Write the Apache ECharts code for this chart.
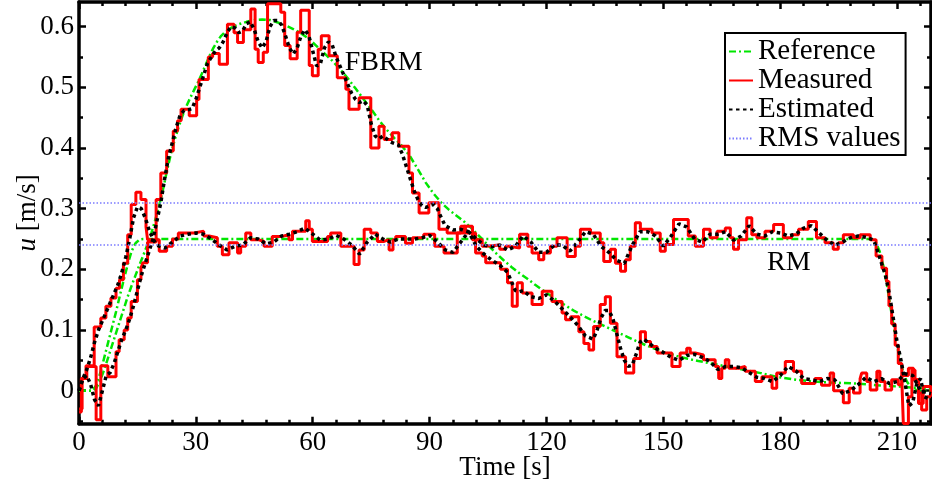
<!DOCTYPE html>
<html><head><meta charset="utf-8">
<script src="https://cdn.jsdelivr.net/npm/echarts@6/dist/echarts.min.js"></script>
<style>html,body{margin:0;padding:0;background:#fff}#c{width:932px;height:488px}</style>
</head><body><div id="c"></div>
<script>
const xTicks = [0, 30, 60, 90, 120, 150, 180, 210];
const xMinorTicks = [6,12,18,24,36,42,48,54,66,72,78,84,96,102,108,114,126,132,138,144,156,162,168,174,186,192,198,204,216];
const yTicks = [0, 0.1, 0.2, 0.3, 0.4, 0.5, 0.6];
const yMinorTicks = [-0.05, 0.05, 0.15, 0.25, 0.35, 0.45, 0.55];
const legendNames = ['Reference', 'Measured', 'Estimated', 'RMS values'];
const rmsValues = [0.31, 0.237];
const annotations = [{text: 'FBRM', t: 78.2, u: 0.541}, {text: 'RM', t: 182.2, u: 0.211}];

const refFBRM = [[0,0],[3.5,0],[4.5,0.005],[5.5,0.018],[6.5,0.035],[7.5,0.055],[8.5,0.075],[9.5,0.095],[10.5,0.115],[11.5,0.135],[12.5,0.155],[13.5,0.173],[14.5,0.19],[15.5,0.207],[16.5,0.223],[17.5,0.24],[18.5,0.258],[19.5,0.28],[20.5,0.303],[21.5,0.33],[22.5,0.36],[23.5,0.388],[24.5,0.412],[25.5,0.433],[26.5,0.452],[27.5,0.468],[28.5,0.482],[29.5,0.495],[30.5,0.508],[31.5,0.522],[32.5,0.537],[33.5,0.552],[34.5,0.565],[35.5,0.576],[36.5,0.585],[37.5,0.591],[39,0.598],[41,0.604],[43,0.608],[45,0.611],[47,0.612],[49,0.611],[51,0.607],[53,0.602],[55,0.596],[57,0.589],[59,0.58],[61,0.568],[63,0.556],[65,0.544],[67,0.53],[69,0.515],[71,0.498],[73,0.481],[75,0.464],[77,0.446],[79,0.43],[81,0.416],[83,0.403],[85,0.386],[87,0.365],[89,0.343],[91,0.325],[93,0.31],[95,0.298],[97,0.288],[99,0.278],[101,0.266],[103,0.253],[105,0.24],[107,0.227],[109,0.215],[111,0.204],[113,0.194],[115,0.185],[117,0.175],[119,0.166],[121,0.157],[123,0.148],[125,0.14],[127,0.132],[129,0.125],[132,0.115],[135,0.106],[138,0.097],[141,0.088],[144,0.079],[147,0.071],[150,0.064],[153,0.058],[156,0.053],[159,0.049],[163,0.044],[167,0.039],[171,0.034],[175,0.029],[179,0.023],[183,0.019],[187,0.016],[191,0.014],[195,0.013],[199,0.012],[205,0.009],[210,0.007],[214,0.005],[218.7,0.003]];

const refRM = [[0,0],[3.5,0],[4.5,0.01],[5.5,0.03],[6.5,0.055],[7.5,0.08],[8.5,0.105],[9.5,0.13],[10.5,0.157],[11.5,0.183],[12.5,0.208],[13.5,0.23],[14.5,0.243],[15.5,0.249],[16.5,0.25],[203.5,0.25],[204.5,0.245],[205.5,0.23],[206.5,0.205],[207.5,0.17],[208.5,0.13],[209.5,0.09],[210.5,0.058],[211.5,0.032],[212.5,0.015],[213.5,0.006],[214.5,0.002],[215.5,0],[218.7,0]];

const measFBRM = [[0,-0.035],[0.6,0.02],[2,0.04],[4.4,-0.048],[5.6,0.041],[7.4,0.023],[9.5,0.064],[10.3,0.084],[11.6,0.1],[12.5,0.12],[13.4,0.147],[15,0.183],[15.9,0.202],[16.4,0.211],[17.6,0.245],[19.8,0.315],[21.0,0.359],[22.5,0.395],[24.2,0.428],[25.3,0.445],[26.2,0.464],[28.3,0.453],[30.2,0.48],[30.8,0.513],[33.2,0.55],[34.3,0.556],[36,0.538],[38.1,0.604],[39.8,0.59],[40.7,0.574],[42.2,0.595],[44.1,0.629],[45.2,0.563],[46,0.541],[47.3,0.558],[48.4,0.638],[51.8,0.624],[52.8,0.569],[54.2,0.547],[56,0.591],[56.9,0.627],[59.1,0.536],[59.9,0.519],[61.4,0.563],[62.2,0.585],[64.2,0.552],[66.3,0.516],[68.5,0.497],[69.3,0.464],[71.9,0.483],[74.9,0.4],[77,0.436],[78.3,0.414],[80.4,0.425],[82.1,0.403],[84.7,0.359],[85.6,0.326],[87.3,0.293],[89.8,0.31],[92.4,0.266],[94.5,0.26],[98,0.271],[99.2,0.26],[101.8,0.227],[103.5,0.222],[104.4,0.211],[108.2,0.2],[110,0.178],[111.2,0.139],[112.5,0.178],[113.8,0.161],[116.3,0.142],[118.9,0.164],[121.4,0.147],[124,0.128],[124.9,0.117],[126.2,0.122],[128.3,0.097],[129.6,0.078],[130.9,0.067],[132.1,0.106],[133.8,0.142],[135.1,0.155],[136.4,0.111],[138.1,0.056],[140.3,0.029],[142.4,0.053],[144.1,0.097],[145.4,0.081],[146.7,0.073],[148.4,0.062],[152.2,0.04],[154.3,0.062],[156,0.07],[156.9,0.062],[158.2,0.059],[160.3,0.051],[163.3,0.04],[164.2,0.02],[165,0.037],[165.9,0.051],[166.8,0.037],[169.3,0.04],[171,0.032],[173.6,0.015],[175.3,0.023],[177.9,0.004],[179.1,0.029],[181.3,0.048],[183.4,0.032],[185.5,0.012],[188.9,0.02],[190.6,0.009],[192.8,0.029],[193.7,0],[196.2,-0.02],[197.7,0.004],[198.8,-0.004],[200.5,0.02],[200.9,0.029],[202.2,0.015],[203.1,0.001],[204.8,0.032],[205.6,0.015],[206.9,0.001],[208.6,0.018],[210.3,0.01],[211.2,0.025],[212.9,0.037],[214.2,0.018],[215.5,-0.021],[216.7,0.007],[218.7,-0.01]];

const measRM = [[0,-0.03],[0.8,0.02],[1.8,0.041],[3.9,0.105],[5.6,0.12],[6.9,0.139],[8.2,0.153],[9.5,0.169],[10.4,0.183],[11.4,0.21],[12.5,0.257],[13.4,0.307],[14.6,0.327],[15.9,0.315],[17.2,0.27],[17.6,0.249],[19,0.249],[20.6,0.23],[22.5,0.238],[24,0.25],[25.5,0.26],[29.6,0.263],[32,0.255],[33.4,0.252],[35.5,0.238],[36.8,0.224],[38.5,0.244],[40.7,0.227],[41.5,0.238],[42.8,0.26],[44.1,0.249],[46,0.246],[47.5,0.238],[49.6,0.254],[51.8,0.257],[53.9,0.249],[54.8,0.263],[58.2,0.28],[59.1,0.266],[59.9,0.246],[63.8,0.254],[64.6,0.26],[67.2,0.238],[70.6,0.208],[71.9,0.232],[73.2,0.266],[74.9,0.26],[76.6,0.246],[78.3,0.249],[79.6,0.232],[80.6,0.249],[81.3,0.254],[83.8,0.243],[85.6,0.252],[88.5,0.258],[91.3,0.238],[93.7,0.227],[97.1,0.26],[98.8,0.271],[101,0.249],[103.5,0.238],[104.4,0.24],[108,0.233],[109.5,0.238],[110.6,0.235],[113.1,0.258],[115.2,0.238],[116.3,0.227],[118,0.216],[119.3,0.227],[121,0.238],[122.7,0.252],[125.3,0.221],[127.4,0.238],[128.7,0.266],[131.3,0.26],[133.8,0.244],[134.7,0.213],[136.4,0.233],[137.7,0.21],[139,0.197],[140.3,0.216],[141.5,0.238],[142.8,0.277],[144.1,0.266],[147.1,0.26],[149.2,0.23],[150.5,0.241],[152.6,0.282],[156.4,0.255],[158.2,0.238],[160.3,0.266],[162,0.252],[163.8,0.263],[165.9,0.268],[167.2,0.252],[168,0.233],[169.3,0.249],[171.4,0.285],[172.7,0.257],[174,0.252],[176.1,0.263],[178.3,0.274],[180.8,0.252],[182.9,0.257],[184.7,0.266],[187.2,0.279],[189.3,0.252],[191.5,0.244],[193.6,0.233],[194.9,0.244],[196.2,0.257],[198.8,0.252],[200.5,0.257],[203.1,0.249],[204.6,0.222],[206.1,0.202],[207.3,0.18],[207.9,0.14],[208.6,0.11],[209.5,0.075],[210.3,0.045],[211.2,0.02],[211.6,-0.054],[212.9,-0.01],[213.8,0.034],[214.6,0.018],[215.5,-0.004],[216.3,-0.032],[217.6,-0.01],[218.7,-0.01]];

const estFBRM = [[0,0],[1,0.02],[2,0.025],[3,0.01],[4,-0.015],[5,-0.025],[6,0],[7,0.025],[8,0.03],[9,0.045],[10,0.065],[11,0.085],[12,0.1],[13,0.118],[14,0.14],[15,0.165],[16,0.19],[17,0.21],[18,0.23],[19,0.25],[20,0.28],[21,0.31],[22,0.35],[23,0.385],[24,0.41],[25,0.435],[26,0.455],[27,0.462],[28,0.463],[29,0.465],[30,0.48],[31,0.5],[32,0.52],[33,0.54],[34,0.55],[35,0.56],[36,0.565],[37,0.575],[38,0.59],[39,0.6],[40,0.598],[41,0.59],[42,0.593],[43,0.605],[44,0.608],[45,0.595],[46,0.575],[47,0.565],[48,0.575],[49,0.6],[50,0.61],[51,0.61],[52,0.603],[53,0.585],[54,0.565],[55,0.555],[56,0.565],[57,0.585],[58,0.595],[59,0.585],[60,0.56],[61,0.535],[62,0.54],[63,0.565],[64,0.575],[65,0.57],[66,0.55],[67,0.535],[68,0.52],[69,0.505],[70,0.49],[71,0.48],[72,0.475],[73,0.478],[74,0.47],[75,0.44],[76,0.42],[77,0.415],[78,0.42],[79,0.415],[80,0.41],[82,0.405],[83,0.39],[84,0.37],[85,0.35],[86,0.33],[87,0.315],[88,0.305],[89,0.302],[90,0.305],[91,0.307],[92,0.3],[93,0.285],[94,0.272],[96,0.265],[98,0.266],[100,0.262],[101,0.25],[102,0.238],[104,0.225],[106,0.215],[108,0.207],[110,0.195],[111,0.18],[112,0.165],[113,0.163],[114,0.165],[116,0.155],[118,0.152],[119,0.155],[120,0.158],[122,0.148],[124,0.135],[126,0.122],[128,0.108],[130,0.09],[132,0.085],[133,0.1],[134,0.12],[135,0.132],[136,0.132],[137,0.12],[138,0.095],[139,0.07],[140,0.05],[141,0.04],[142,0.042],[143,0.06],[144,0.08],[145,0.085],[146,0.08],[148,0.07],[150,0.063],[152,0.055],[154,0.05],[156,0.058],[158,0.06],[160,0.055],[162,0.048],[164,0.035],[166,0.04],[168,0.04],[170,0.038],[172,0.03],[174,0.022],[176,0.02],[178,0.015],[180,0.025],[182,0.04],[184,0.033],[186,0.02],[188,0.018],[190,0.015],[192,0.02],[194,0.018],[196,-0.005],[198,0],[200,0.01],[202,0.022],[204,0.015],[206,0.02],[208,0.012],[210,0.015],[212,0.028],[214,0.025],[216,0],[218.7,-0.005]];

const estRM = [[0,0],[1,0.02],[2,0.035],[3,0.055],[4,0.08],[5,0.1],[6,0.115],[7,0.13],[8,0.145],[9,0.16],[10,0.175],[11,0.195],[12,0.22],[13,0.25],[14,0.285],[15,0.303],[16,0.3],[17,0.285],[18,0.265],[19,0.25],[20,0.24],[22,0.235],[24,0.245],[26,0.255],[28,0.258],[30,0.26],[32,0.258],[34,0.25],[36,0.24],[38,0.232],[40,0.238],[42,0.24],[44,0.252],[46,0.25],[48,0.242],[50,0.245],[52,0.255],[54,0.258],[56,0.262],[58,0.268],[60,0.258],[62,0.248],[64,0.25],[66,0.256],[68,0.25],[70,0.24],[72,0.225],[74,0.245],[76,0.258],[78,0.25],[80,0.245],[82,0.25],[84,0.25],[86,0.25],[88,0.252],[90,0.256],[92,0.245],[94,0.232],[96,0.228],[98,0.245],[100,0.262],[102,0.25],[104,0.24],[106,0.237],[108,0.24],[110,0.232],[112,0.238],[114,0.255],[116,0.245],[118,0.228],[120,0.228],[122,0.24],[124,0.24],[126,0.23],[128,0.245],[130,0.262],[132,0.258],[134,0.238],[136,0.228],[138,0.215],[140,0.21],[142,0.24],[144,0.262],[146,0.262],[148,0.255],[150,0.238],[152,0.255],[154,0.275],[156,0.27],[158,0.25],[160,0.245],[162,0.258],[164,0.258],[166,0.262],[168,0.248],[170,0.255],[172,0.272],[174,0.258],[176,0.255],[178,0.262],[180,0.26],[182,0.255],[184,0.258],[186,0.268],[188,0.272],[190,0.26],[192,0.248],[194,0.24],[196,0.245],[198,0.252],[200,0.255],[202,0.253],[204,0.248],[205,0.23],[206,0.21],[207,0.19],[208,0.16],[209,0.12],[210,0.08],[211,0.05],[212,0.015],[213,-0.025],[214,-0.02],[215,0.01],[216,0.02],[217,-0.01],[218.7,-0.015]];

const FONT = '"Liberation Serif", "Times New Roman", serif';
const X_MIN = 0, X_MAX = 218.7, Y_MIN = -0.0544, Y_MAX = 0.6407;

function xAx(pos, ticks, len, main) {
  return {
    type: 'value', min: X_MIN, max: X_MAX, position: pos,
    axisLine: {show: main, onZero: false, lineStyle: {color: '#000', width: 3.5}},
    axisTick: {show: true, inside: true, length: len, customValues: ticks, lineStyle: {color: '#000', width: 2.5}},
    axisLabel: {show: main && pos === 'bottom', customValues: ticks, margin: 6, color: '#000', fontFamily: FONT, fontSize: 27},
    splitLine: {show: false}
  };
}
function yAx(pos, ticks, len, main) {
  return {
    type: 'value', min: Y_MIN, max: Y_MAX, position: pos,
    axisLine: {show: main, onZero: false, lineStyle: {color: '#000', width: 3.5}},
    axisTick: {show: true, inside: true, length: len, customValues: ticks, lineStyle: {color: '#000', width: 2.5}},
    axisLabel: {show: main && pos === 'left', customValues: ticks, margin: 5, color: '#000', fontFamily: FONT, fontSize: 27,
      formatter: v => String(Math.round(v * 10) / 10)},
    splitLine: {show: false}
  };
}

const xAxes = [xAx('bottom', xTicks, 7, true), xAx('bottom', xMinorTicks, 4, false), xAx('top', xTicks, 7, true), xAx('top', xMinorTicks, 4, false)];
xAxes[0].name = 'Time [s]';
xAxes[0].nameLocation = 'middle';
xAxes[0].nameGap = 31;
xAxes[0].nameMoveOverlap = false;
xAxes[0].nameTextStyle = {color: '#000', fontFamily: FONT, fontSize: 27};
const yAxes = [yAx('left', yTicks, 7, true), yAx('left', yMinorTicks, 4, false), yAx('right', yTicks, 7, true), yAx('right', yMinorTicks, 4, false)];
yAxes[0].name = '{i|u} [m/s]';
yAxes[0].nameLocation = 'middle';
yAxes[0].nameGap = 38;
yAxes[0].nameMoveOverlap = false;
yAxes[0].nameTextStyle = {color: '#000', fontFamily: FONT, fontSize: 27, rich: {i: {fontStyle: 'italic', fontFamily: FONT, fontSize: 27, color: '#000'}}};

const GREEN = '#00e600', RED = '#ff0000', BLACK = '#000000', BLUE = '#7b7bff';
function lineSeries(name, data, color, width, type, step) {
  return {name, type: 'line', data, symbol: 'none', showSymbol: false, step: step || false,
    xAxisIndex: 0, yAxisIndex: 0, animation: false, silent: true,
    itemStyle: {color}, lineStyle: {color, width, type, cap: 'butt'}};
}

const series = [
  lineSeries('Reference', refFBRM, GREEN, 2.5, [7, 3, 2, 3]),
  lineSeries('Reference', refRM, GREEN, 2.5, [7, 3, 2, 3]),
  lineSeries('Measured', measFBRM, RED, 3, 'solid', 'end'),
  lineSeries('Measured', measRM, RED, 3, 'solid', 'end'),
  lineSeries('Estimated', estFBRM, BLACK, 3.5, [3.5, 3.5]),
  lineSeries('Estimated', estRM, BLACK, 3.5, [3.5, 3.5]),
  Object.assign(lineSeries('RMS values', [], BLUE, 1.5, [1.5, 2]), {
    markLine: {symbol: 'none', silent: true, animation: false, label: {show: false},
      lineStyle: {color: BLUE, width: 1.5, type: [1.5, 2]},
      data: rmsValues.map(v => ({yAxis: v}))}
  })
];

const chart = echarts.init(document.getElementById('c'), null, {renderer: 'canvas'});
chart.setOption({
  animation: false,
  backgroundColor: '#fff',
  grid: {left: 79, right: 1, top: 2, bottom: 64.3, containLabel: false, outerBoundsMode: 'none'},
  xAxis: xAxes,
  yAxis: yAxes,
  legend: {
    data: legendNames, orient: 'vertical', left: 725, top: 33,
    padding: [4, 5, 2, 3], itemGap: 0, itemWidth: 24, itemHeight: 12,
    backgroundColor: '#fff', borderColor: '#000', borderWidth: 2, borderRadius: 0,
    selectedMode: false,
    itemStyle: {color: 'transparent', borderColor: 'transparent', borderWidth: 0, opacity: 0},
    textStyle: {fontFamily: FONT, fontSize: 29, color: '#000', lineHeight: 22.5}
  },
  series
});
chart.setOption({
  graphic: annotations.map(a => {
    const p = chart.convertToPixel({xAxisIndex: 0, yAxisIndex: 0}, [a.t, a.u]);
    return {type: 'text', x: p[0], y: p[1], silent: true,
      style: {text: a.text, font: '28px ' + FONT, fill: '#000', align: 'center', verticalAlign: 'middle'}};
  })
});
</script></body></html>
